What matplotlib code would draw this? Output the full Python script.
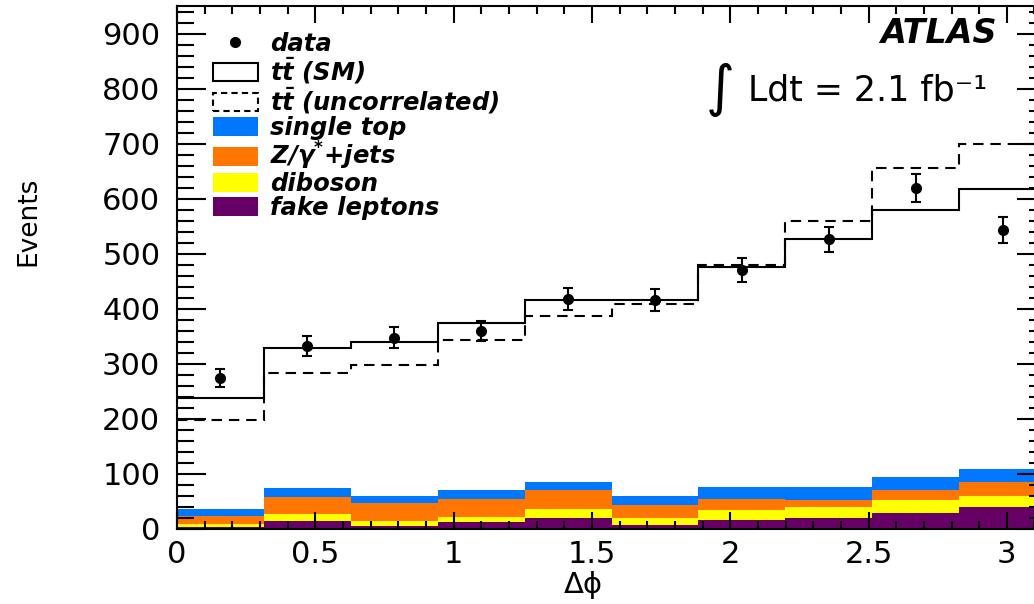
import numpy as np
import matplotlib
matplotlib.use("Agg")
import matplotlib.pyplot as plt
from matplotlib.patches import Patch
from matplotlib.lines import Line2D
from matplotlib.ticker import MultipleLocator, FuncFormatter

# Delta-phi binning: 10 equal bins from 0 to pi
n_bins = 10
dphi_edges = np.linspace(0.0, np.pi, n_bins + 1)

# Observed events per bin
data_counts = [274, 331, 347, 359, 417, 415, 470, 526, 619, 543]

# Total predictions (ttbar + backgrounds)
tt_sm_total = [237, 329, 340, 374, 415, 415, 476, 526, 580, 618]
tt_uncorr_total = [197, 282, 298, 342, 386, 408, 480, 560, 656, 700]

# Background components, stacked bottom to top
fake_leptons = [2, 14.5, 5, 11, 19, 7, 16, 19, 29, 39]
diboson = [6.5, 12, 9.5, 9.5, 16, 12, 17, 20, 22, 21]
z_jets = [15, 30.5, 31.5, 33.5, 34.5, 23, 21, 12, 19, 25]
single_top = [11.5, 16, 14, 16, 15.5, 18, 22, 24, 24, 24]

col_fake = "#660066"
col_dib = "#FFFF00"
col_z = "#FF7700"
col_st = "#0077FF"

plt.rcParams["font.family"] = ["DejaVu Sans"]
plt.rcParams["mathtext.fontset"] = "custom"
plt.rcParams["mathtext.it"] = "DejaVu Sans:bold:italic"
plt.rcParams["mathtext.rm"] = "DejaVu Sans:bold"
plt.rcParams["mathtext.bf"] = "DejaVu Sans:bold"

fig = plt.figure(figsize=(10.34, 6.04), dpi=100)
# the frame runs to pi, slightly past the right edge of the canvas
ax = fig.add_axes([177 / 1034, 75.5 / 604, (1046 - 177) / 1034, 522.5 / 604])

# stacked backgrounds
base = np.zeros(n_bins)
for vals, col in [(fake_leptons, col_fake), (diboson, col_dib),
                  (z_jets, col_z), (single_top, col_st)]:
    top = base + np.asarray(vals, dtype=float)
    ax.stairs(top, dphi_edges, baseline=base, fill=True, color=col, lw=0, zorder=1)
    base = top

# ttbar predictions
ax.stairs(tt_uncorr_total, dphi_edges, baseline=None, color="black", lw=1.5,
          linestyle=(0, (5, 3.3)), zorder=3)
ax.stairs(tt_sm_total, dphi_edges, baseline=None, color="black", lw=1.5, zorder=3)

# data with Poisson errors
centers = 0.5 * (dphi_edges[:-1] + dphi_edges[1:])
data_arr = np.asarray(data_counts, dtype=float)
ax.errorbar(centers, data_arr, yerr=np.sqrt(data_arr), fmt="o", color="black",
            ms=7, elinewidth=1.5, capsize=3.5, capthick=1.5, zorder=4)

ax.set_xlim(0, np.pi)
ax.set_ylim(0, 950)

ax.xaxis.set_major_locator(MultipleLocator(0.5))
ax.xaxis.set_minor_locator(MultipleLocator(0.1))
ax.yaxis.set_major_locator(MultipleLocator(100))
ax.yaxis.set_minor_locator(MultipleLocator(20))
ax.xaxis.set_major_formatter(FuncFormatter(lambda v, p: f"{v:g}"))

ax.tick_params(axis="both", which="both", direction="in", top=True, right=True,
               width=1.5, colors="black")
ax.tick_params(axis="x", which="major", length=12, labelsize=22, pad=8)
ax.tick_params(axis="x", which="minor", length=6)
ax.tick_params(axis="y", which="major", length=21, labelsize=22, pad=12)
ax.tick_params(axis="y", which="minor", length=12)
for sp in ax.spines.values():
    sp.set_linewidth(1.5)

ax.set_ylabel("Events", fontsize=19)
ax.yaxis.set_label_coords(-0.156, 0.587)
ax.set_xlabel("Δϕ", fontsize=21)
ax.xaxis.set_label_coords((583 - 177) / 869, -0.082)

# legend
handles = [
    Line2D([], [], marker="o", ms=7, color="black", ls="none"),
    Patch(facecolor="white", edgecolor="black", lw=1.5),
    Patch(facecolor="white", edgecolor="black", lw=1.5, linestyle=(0, (3, 2))),
    Patch(facecolor=col_st, edgecolor="none"),
    Patch(facecolor=col_z, edgecolor="none"),
    Patch(facecolor=col_dib, edgecolor="none"),
    Patch(facecolor=col_fake, edgecolor="none"),
]
labels = ["data", r"$t\bar{t}$ (SM)", r"$t\bar{t}$ (uncorrelated)", "single top",
          r"Z/γ$^{*}$+jets", "diboson", "fake leptons"]
leg = ax.legend(handles, labels, loc="upper left", bbox_to_anchor=(0.041, 0.951),
                frameon=False, borderpad=0, borderaxespad=0, handlelength=1.85,
                handleheight=0.8, handletextpad=0.5, labelspacing=0.0,
                prop={"family": "DejaVu Sans", "weight": "bold", "style": "italic",
                      "size": 17.5})

ax.text(0.9436, 0.948, "ATLAS", transform=ax.transAxes, ha="right", va="center",
        fontsize=24, fontweight="bold", fontstyle="italic")
ax.text(0.625, 0.839, "∫", transform=ax.transAxes, ha="center", va="center",
        fontsize=40)
ax.text(0.657, 0.839, "Ldt = 2.1 fb⁻¹", transform=ax.transAxes, ha="left",
        va="center", fontsize=25)

fig.savefig("out.png", dpi=100)
